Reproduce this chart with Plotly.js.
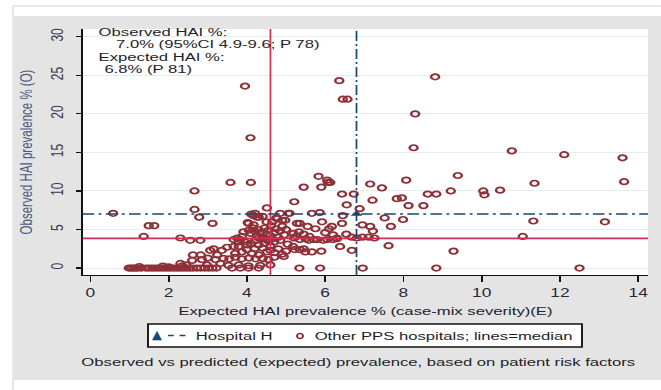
<!DOCTYPE html>
<html><head><meta charset="utf-8">
<script src="https://cdn.plot.ly/plotly-3.0.1.min.js"></script>
<style>
html,body{margin:0;padding:0;background:#fff;overflow:hidden;}
#wrap{width:456px;height:390px;transform:scaleX(1.4496);transform-origin:0 0;}
</style></head><body><div id="wrap"><div id="chart"></div></div>
<script>
// Other PPS hospitals: expected (x) vs observed (y) HAI prevalence %
const otherX = [
  0.98,1.04,1.10,1.16,1.22,1.30,1.42,1.50,1.58,1.66,1.74,1.82,1.90,1.98,2.06,2.14,2.22,2.30,2.38,2.46,2.54,2.62,2.72,2.82,2.92,3.02,3.12,3.22,3.62,3.83,4.04,4.30,5.34,5.87,6.96,8.84,12.50,
  1.25,1.85,2.35,2.00,
  0.58,1.36,1.49,1.63,2.30,2.55,2.81,2.30,2.62,2.82,2.60,2.85,2.45,2.66,2.66,2.78,3.12,
  3.58,4.10,4.02,4.17,4.26,4.11,4.21,4.30,4.04,4.17,4.51,
  3.06,3.36,3.49,3.66,3.79,3.24,3.00,3.20,3.40,3.55,3.70,3.87,4.05,4.22,4.40,4.55,3.32,2.98,3.53,3.79,4.04,4.34,4.60,
  3.70,3.87,4.13,4.30,4.51,4.00,4.20,4.40,4.60,3.15,
  3.91,3.87,3.75,3.66,3.79,3.83,3.95,4.00,4.10,4.20,4.30,4.45,4.55,
  4.10,4.20,4.25,4.30,4.35,4.40,4.45,4.50,4.55,4.60,4.62,4.65,4.70,4.75,4.80,4.85,4.90,4.95,5.00,4.70,4.85,4.40,4.50,4.30,4.65,4.75,4.90,4.85,5.06,4.77,4.98,5.28,4.15,4.05,4.50,4.40,
  4.70,4.80,4.90,4.94,5.04,5.18,5.00,4.70,4.60,
  5.09,5.21,5.45,5.83,6.05,5.90,6.07,5.66,5.86,5.92,5.35,5.19,5.45,5.33,5.25,5.60,
  5.20,5.35,5.50,5.58,5.70,5.80,5.95,6.05,6.20,6.30,
  5.45,5.66,5.49,5.22,5.35,5.90,6.38,6.68,
  6.13,6.43,6.73,6.55,6.88,6.45,6.43,6.17,6.54,6.30,
  6.00,6.20,6.10,5.75,5.55,
  6.95,7.15,7.22,7.52,7.68,7.99,6.68,6.81,6.95,7.11,7.26,7.62,7.21,7.83,7.96,8.13,8.51,7.15,7.45,8.07,8.26,9.39,8.62,8.84,9.21,10.04,10.07,10.47,10.77,12.11,13.60,11.35,13.64,11.32,13.15,11.05,9.28,
  3.95,4.09,6.36,6.45,6.57,8.81,8.30
];
const otherY = [
  0,0,0,0,0,0,0,0,0,0,0,0,0,0,0,0,0,0,0,0,0,0,0,0,0,0,0,0,0,0,0,0,0,0,0,0,0,
  0.2,0.25,0.3,0.15,
  7.1,4.1,5.5,5.5,3.9,3.6,3.6,0.6,1.7,1.7,1.0,1.1,0.4,10.0,7.6,6.6,5.8,
  11.1,11.1,5.9,6.8,6.6,7.0,7.1,6.6,5.8,5.6,7.8,
  2.3,2.3,2.7,2.8,2.8,1.7,1.3,1.1,1.25,1.2,1.4,1.2,1.3,1.2,1.25,1.1,0.6,0.4,0.35,0.4,0.3,0.35,0.4,
  1.9,2.1,1.9,1.7,2.1,2.4,2.5,2.6,2.3,2.5,
  4.7,4.1,3.9,3.7,3.4,3.7,3.4,3.0,3.2,3.5,3.0,3.2,3.5,
  4.5,4.8,4.2,5.0,4.6,4.0,5.2,4.4,4.9,4.2,5.5,3.8,4.6,5.1,4.0,4.8,5.4,4.3,5.0,3.4,3.6,3.8,3.7,3.9,6.0,6.5,6.2,7.1,7.1,6.4,6.2,5.8,5.2,4.9,6.0,6.7,
  2.0,2.5,1.8,1.5,3.1,2.8,2.2,1.4,2.9,
  7.1,8.6,10.5,11.9,11.4,10.5,11.1,7.1,7.2,6.0,5.8,4.5,4.4,4.7,4.1,4.1,
  3.9,3.7,3.8,3.6,3.7,3.7,3.6,3.7,3.7,3.8,
  2.5,2.1,2.1,2.4,2.4,2.2,2.8,2.3,
  11.1,9.6,9.6,8.2,7.7,6.8,5.8,5.4,4.4,3.9,
  4.6,4.3,5.1,5.1,5.4,
  5.6,5.4,4.8,6.5,5.4,6.3,4.0,3.9,4.0,4.0,3.9,2.9,8.8,9.0,9.1,8.1,8.1,10.9,10.4,11.4,15.6,12.0,9.6,9.6,10.0,10.0,9.5,10.1,15.2,14.7,14.3,11.0,11.2,6.1,6.0,4.1,2.2,
  23.6,16.9,24.3,21.9,21.9,24.8,20.0
];
// Hospital H
const hospitalX = [6.8];
const hospitalY = [7.0];
// medians of other hospitals
const medianX = 4.6;
const medianY = 3.85;
const xTicks = [0, 2, 4, 6, 8, 10, 12, 14];
const yTicks = [0, 5, 10, 15, 20, 25, 30];
const xTitle = "Expected HAI prevalence % (case-mix severity)(E)";
const yTitle = "Observed HAI prevalence % (O)";
const caption = "Observed vs predicted (expected) prevalence, based on patient risk factors";
const infoLines = ["Observed HAI %:", "7.0% (95%CI 4.9-9.6; P 78)", "Expected HAI %:", "6.8% (P 81)"];
const legendNames = ["Hospital H", "Other PPS hospitals; lines=median"];

const RED = '#d22f53', NAVY = '#1a476f', CRAN = '#8f3038';
const FONT = 'Liberation Sans, Arial, sans-serif';

const traces = [
  {type:'scatter', mode:'markers', x:otherX, y:otherY, name:legendNames[1],
   marker:{symbol:'circle-open', size:5.5, color:CRAN, line:{width:1.7}}, cliponaxis:true},
  {type:'scatter', mode:'markers', x:hospitalX, y:hospitalY, name:legendNames[0],
   marker:{symbol:'triangle-up', size:7, color:NAVY}}
];

const P = (px) => (px - 82.6) / 565.4;   // page px -> paper x
const Q = (py) => (275 - py) / 246;      // page px -> paper y

const shapes = [
  {type:'rect', xref:'paper', yref:'paper', x0:P(14), x1:P(661), y0:Q(380), y1:Q(16), fillcolor:'#e4e4e4', line:{width:0}, layer:'below'},
  {type:'rect', xref:'paper', yref:'paper', x0:0, x1:1, y0:0, y1:1, fillcolor:'#ffffff', line:{width:0}, layer:'below'},
  {type:'line', xref:'paper', yref:'paper', x0:P(13), x1:P(661), y0:Q(6), y1:Q(6), line:{color:'#d6d6d6', width:1}, layer:'below'},
  {type:'line', xref:'paper', yref:'paper', x0:P(13), x1:P(13), y0:Q(6), y1:Q(390), line:{color:'#d6d6d6', width:0.8}, layer:'below'},
  // legend box
  {type:'rect', xref:'paper', yref:'paper', x0:P(148), x1:P(582), y0:Q(347), y1:Q(324), fillcolor:'#ffffff', line:{color:'#111', width:1.3}},
  {type:'path', xref:'paper', yref:'paper', path:`M ${P(157)} ${Q(331.5)} L ${P(152.5)} ${Q(340)} L ${P(161.5)} ${Q(340)} Z`, fillcolor:NAVY, line:{color:NAVY, width:0.5}},
  {type:'line', xref:'paper', yref:'paper', x0:P(168), x1:P(189), y0:Q(335.5), y1:Q(335.5), line:{color:NAVY, width:1.6, dash:'4px,4px'}},
  {type:'circle', xref:'paper', yref:'paper', x0:P(297), x1:P(303), y0:Q(338.5), y1:Q(333.5), line:{color:CRAN, width:1.4}},
  // median lines
  {type:'line', xref:'x', yref:'paper', x0:medianX, x1:medianX, y0:0, y1:1, line:{color:RED, width:1.2}},
  {type:'line', xref:'paper', yref:'y', x0:0, x1:1, y0:medianY, y1:medianY, line:{color:RED, width:1.6}},
  // hospital lines
  {type:'line', xref:'x', yref:'paper', x0:hospitalX[0], x1:hospitalX[0], y0:0, y1:1, line:{color:NAVY, width:1.2, dash:'10px,3px,2px,3px'}},
  {type:'line', xref:'paper', yref:'y', x0:0, x1:1, y0:hospitalY[0], y1:hospitalY[0], line:{color:NAVY, width:1.5, dash:'8px,3px,2px,3px'}}
];

const ann = (text, px, py, anchor, color) => ({text, xref:'paper', yref:'paper', x:P(px), y:Q(py),
  xanchor:anchor || 'left', yanchor:'middle', showarrow:false, font:{family:FONT, size:11.5, color:color || '#1e1e28'}});

const annotations = [
  ann(infoLines[0], 96, 32),
  ann(infoLines[1], 113, 44),
  ann(infoLines[2], 96, 56.5),
  ann(infoLines[3], 102, 68.5),
  ann(xTitle, 365, 310.5, 'center', '#22222e'),
  ann(legendNames[0], 193, 336),
  ann(legendNames[1], 312, 336),
  ann(caption, 359.5, 362, 'center')
];

const layout = {
  width:456, height:390,
  margin:{l:57, r:9, t:29, b:115, pad:0},
  paper_bgcolor:'#ffffff', plot_bgcolor:'#ffffff',
  showlegend:false,
  font:{family:FONT, size:11.5, color:'#222'},
  xaxis:{range:[-0.2, 14.25], tickvals:xTicks, ticks:'outside', ticklen:6, tickwidth:1.2, tickcolor:'#111',
    showline:true, linecolor:'#111', linewidth:1.3, showgrid:false, zeroline:false,
    tickfont:{family:FONT, size:12, color:'#2a2a35'}},
  yaxis:{range:[-0.9, 31.0], tickvals:yTicks, tickangle:-90, ticks:'outside', ticklen:3.5, tickwidth:1.2, tickcolor:'#111',
    showline:true, linecolor:'#111', linewidth:1.0, showgrid:true, gridcolor:'#e3ecef', gridwidth:1, zeroline:false,
    tickfont:{family:FONT, size:12, color:'#3a3a48'}, ticklabelstandoff:4,
    title:{text:yTitle, font:{family:FONT, size:11.5, color:'#4b5a82'}, standoff:7}},
  shapes, annotations
};

Plotly.newPlot('chart', traces, layout, {staticPlot:true, displayModeBar:false});
</script>
</body></html>
